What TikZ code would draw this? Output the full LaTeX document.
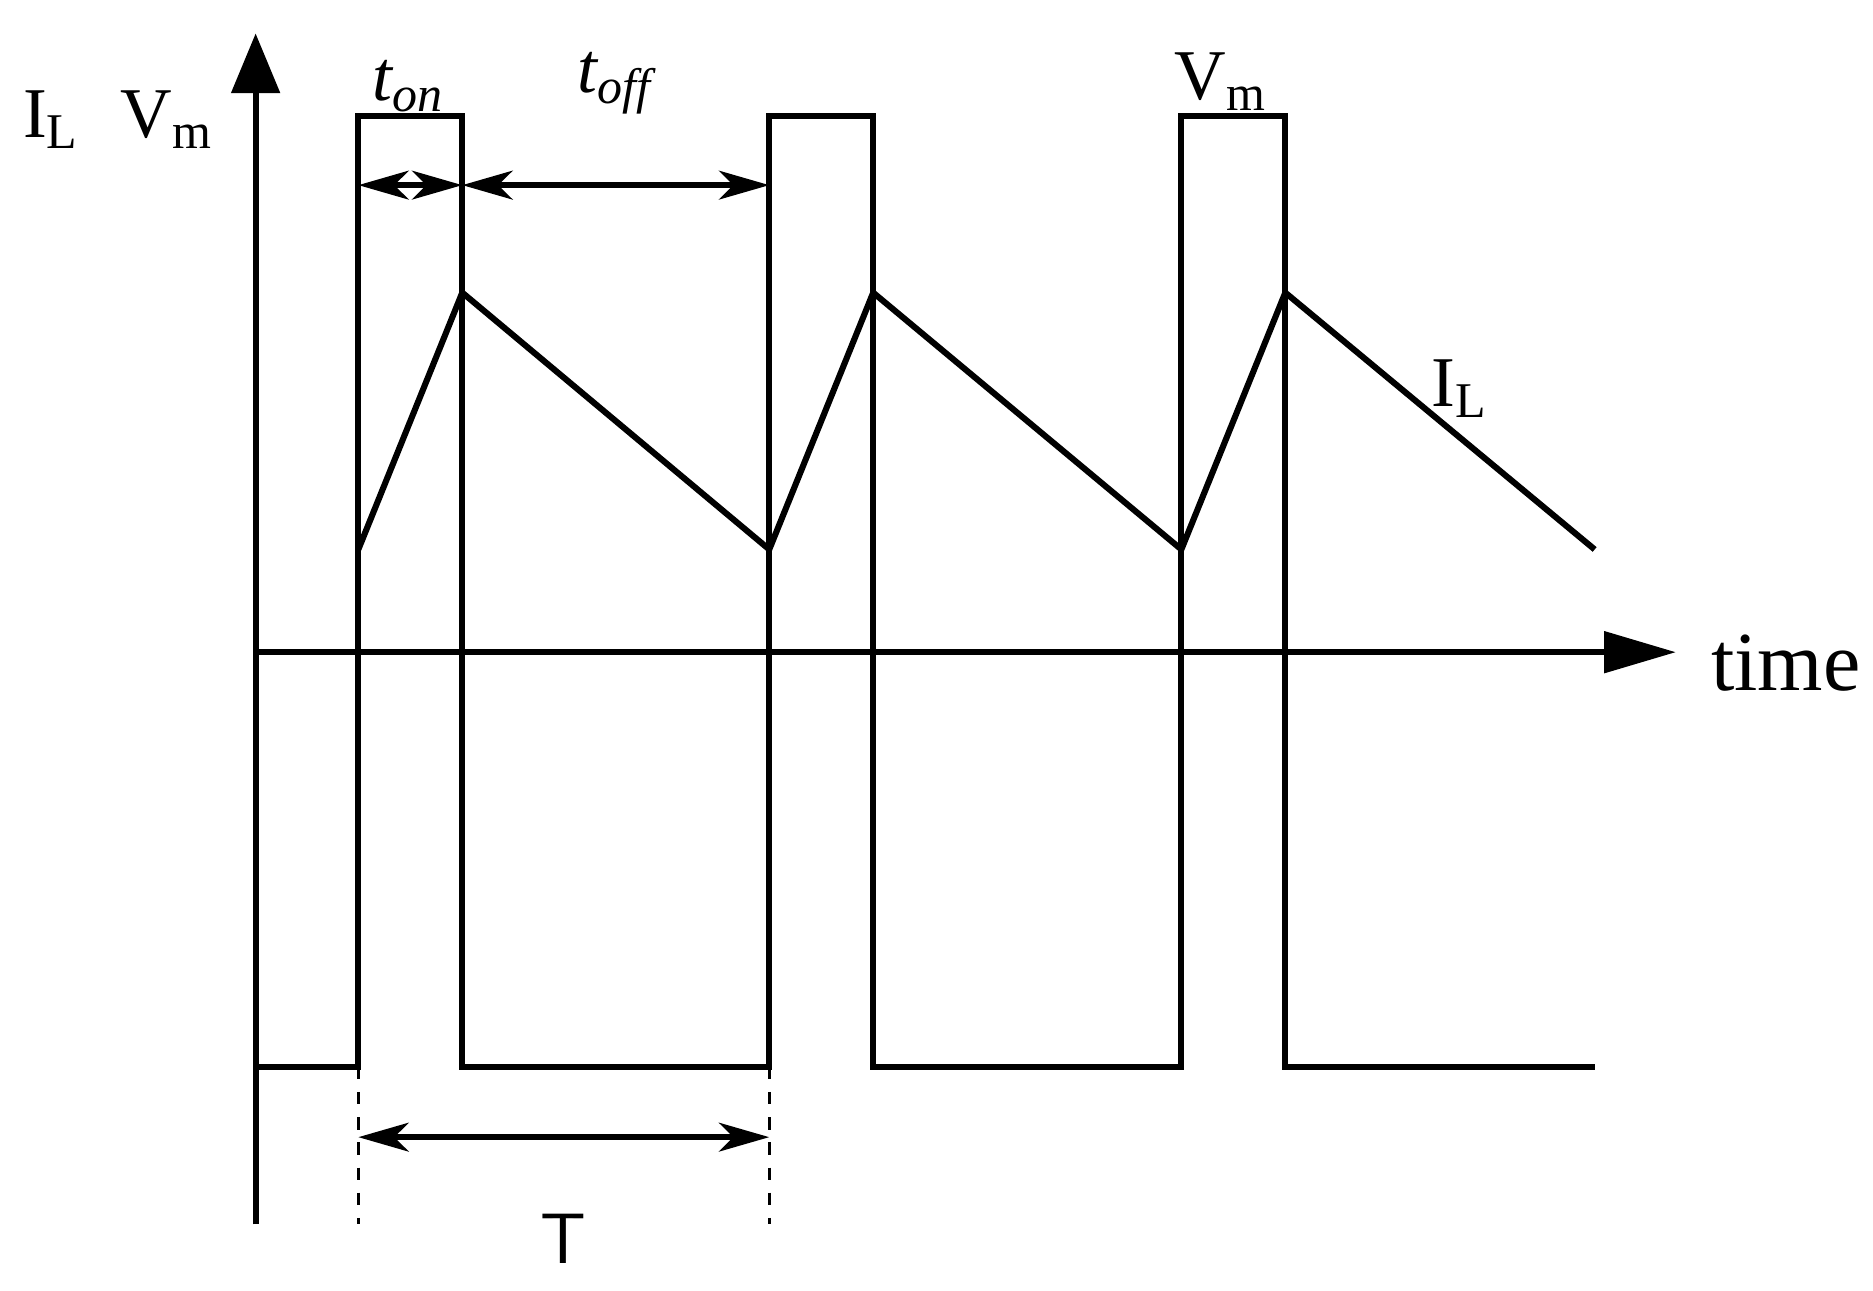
\documentclass[tikz,border=0pt]{standalone}
\usepackage{fontspec}
\setmainfont{Liberation Serif}
\usetikzlibrary{arrows.meta}
\begin{document}
\begin{tikzpicture}[x=0.01cm,y=-0.01cm,
  ln/.style={line width=1.45pt,line join=miter},
  ax/.style={ln,-{Triangle[length=0.5cm,width=0.4cm]}},
  dim/.style={ln,{Stealth[length=0.42cm,width=0.24cm,inset=0.12cm]}-{Stealth[length=0.42cm,width=0.24cm,inset=0.12cm]}},
  lab/.style={font=\fontsize{17}{20}\selectfont,inner sep=0pt}]
\useasboundingbox (0,0) rectangle (1568,1080);
\coordinate (ybot) at (214,1025);
\coordinate (ytop) at (214,28);
\coordinate (xend) at (1403,546);
\coordinate (xstart) at (214,546);
\draw[ax] (ybot) -- (ytop);
\draw[ln,-{Triangle[length=0.6cm,width=0.34cm]}] (xstart) -- (xend);
% square wave
\draw[ln] (214,893) -- (300,893) -- (300,97) -- (387,97) -- (387,893) -- (644,893) -- (644,97) -- (731,97) -- (731,893) -- (989,893) -- (989,97) -- (1076,97) -- (1076,893) -- (1335,893);
% triangle
\draw[ln] (300,460) -- (387,245) -- (644,460) -- (731,245) -- (989,460) -- (1076,245) -- (1335,460);
% dimension arrows
\coordinate (a1) at (300,155); \coordinate (a2) at (387,155); \coordinate (a3) at (644,155);
\draw[dim] (a1) -- (a2);
\draw[dim] (a2) -- (a3);
\coordinate (b1) at (300,952); \coordinate (b2) at (644,952);
\draw[dim] (b1) -- (b2);
\draw[line width=0.7pt,dashed] (300,893) -- (300,1025);
\draw[line width=0.7pt,dashed] (644,893) -- (644,1025);
% labels
\node[lab] (il1) at (43,100) {I\textsubscript{L}};
\node[lab] (vm1) at (140,100) {V\textsubscript{m}};
\node[lab] (ton) at (342,72) {\textit{t\textsubscript{on}}};
\node[lab] (toff) at (515,70) {\textit{t\textsubscript{off}}};
\node[lab] (vm2) at (1022,68) {V\textsubscript{m}};
\node[lab] (il2) at (1222,325) {I\textsubscript{L}};
\node[lab,font=\fontsize{20}{24}\selectfont] (time) at (1495,555) {time};
\node[lab,font=\fontsize{17}{20}\selectfont\sffamily] (T) at (472,1037) {T};
\end{tikzpicture}
\end{document}
